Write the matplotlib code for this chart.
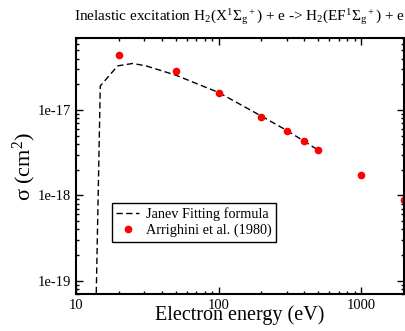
import math
import matplotlib
matplotlib.use("Agg")
import matplotlib.pyplot as plt
from matplotlib.ticker import LogLocator, FuncFormatter, NullFormatter

plt.rcParams['font.family'] = ['Liberation Serif', 'DejaVu Serif']
plt.rcParams['mathtext.fontset'] = 'custom'
plt.rcParams['mathtext.rm'] = 'Liberation Serif'
plt.rcParams['mathtext.it'] = 'Liberation Serif:italic'
plt.rcParams['mathtext.bf'] = 'Liberation Serif:bold'

# Janev fitting formula (dashed line)
fit_energy = [13.2, 14.8, 19.6, 25.0, 31.0, 50.0, 100.0, 200.0, 300.0, 400.0, 500.0]
fit_sigma = [1e-21, 1.92e-17, 3.30e-17, 3.52e-17, 3.30e-17, 2.57e-17, 1.61e-17,
             0.85e-17, 0.58e-17, 0.43e-17, 0.34e-17]

# Arrighini et al. (1980) points
exp_energy = [20, 50, 100, 200, 300, 400, 500, 1000, 2000]
exp_sigma = [4.40e-17, 2.84e-17, 1.60e-17, 0.835e-17, 0.568e-17, 0.43e-17,
             0.343e-17, 0.174e-17, 0.089e-17]

fig = plt.figure(figsize=(4.05, 3.31), dpi=100)
ax = fig.add_axes([0.1877, 0.1118, 0.8098, 0.7734])

ax.plot(fit_energy, fit_sigma, color='black', lw=1.0, ls=(0, (4.5, 2.5)),
        label='Janev Fitting formula')
ax.plot(exp_energy, exp_sigma, 'o', color='red', ms=4.5, mec='red',
        label='Arrighini et al. (1980)')

ax.set_xscale('log')
ax.set_yscale('log')
ax.set_xlim(10, 2000)
ax.set_ylim(7e-20, 7e-17)

ax.xaxis.set_major_locator(LogLocator(base=10))
ax.xaxis.set_minor_locator(LogLocator(base=10, subs=range(2, 10)))
ax.yaxis.set_major_locator(LogLocator(base=10))
ax.yaxis.set_minor_locator(LogLocator(base=10, subs=range(2, 10)))
ax.xaxis.set_major_formatter(FuncFormatter(lambda v, p: f"{v:g}"))
ax.xaxis.set_minor_formatter(NullFormatter())
ax.yaxis.set_minor_formatter(NullFormatter())


def yfmt(v, p):
    e = int(round(math.log10(v)))
    return f"1e{e}"


ax.yaxis.set_major_formatter(FuncFormatter(yfmt))

ax.tick_params(which='both', direction='in', top=True, right=True, labelsize=10.5, width=1.0)
ax.tick_params(which='major', length=5)
ax.tick_params(which='minor', length=2.5)
for s in ax.spines.values():
    s.set_linewidth(1.5)

ax.set_xlabel('Electron energy (eV)', fontsize=14.5, labelpad=-5)
ax.set_ylabel('σ (cm$^2$)', fontsize=16, labelpad=0)
ax.set_title(r'Inelastic excitation H$_2$(X$^1\Sigma_\mathrm{g}{}^+$) + e -> H$_2$(EF$^1\Sigma_\mathrm{g}{}^+$) + e',
             fontsize=11, pad=12)

leg = ax.legend(loc='lower left', bbox_to_anchor=(0.109, 0.204), borderaxespad=0,
                fancybox=False, edgecolor='black', fontsize=10.3, handlelength=1.6,
                handletextpad=0.5, borderpad=0.3, labelspacing=0.2, framealpha=1)
leg.get_frame().set_linewidth(1.0)

fig.savefig('out.png', dpi=100)
